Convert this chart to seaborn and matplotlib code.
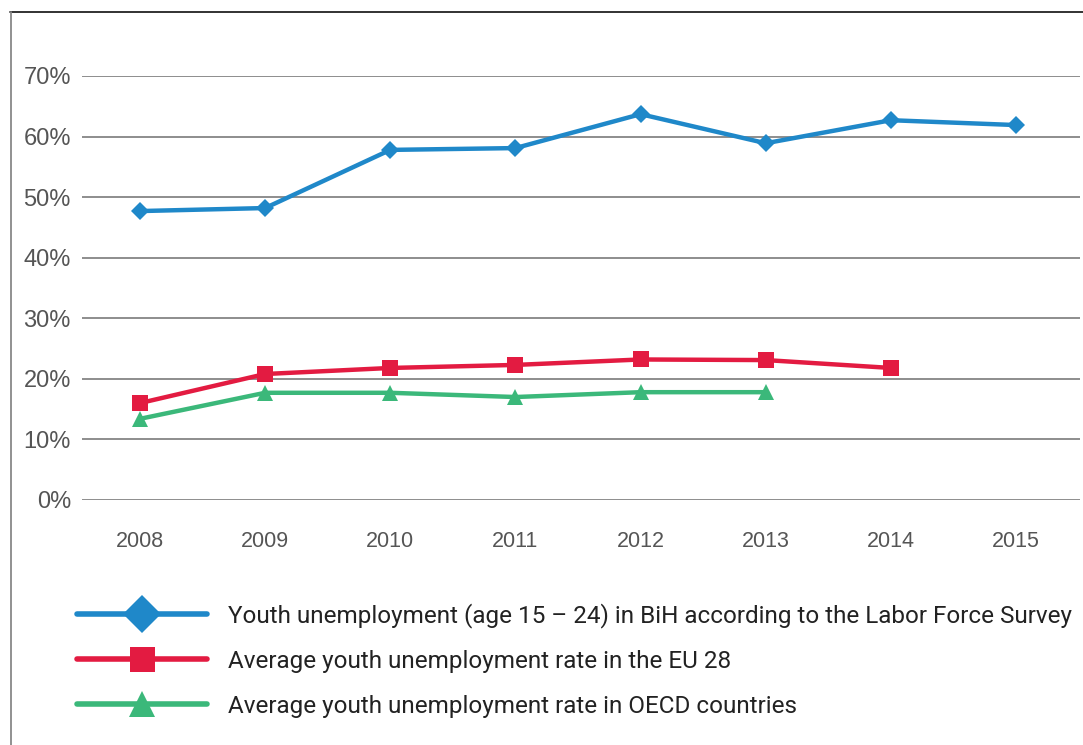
import matplotlib
matplotlib.use("Agg")
import matplotlib.pyplot as plt
from matplotlib.lines import Line2D
import seaborn as sns
import pandas as pd

# Youth unemployment rates (%)
years = [2008, 2009, 2010, 2011, 2012, 2013, 2014, 2015]
bih = [47.7, 48.2, 57.8, 58.1, 63.7, 58.9, 62.7, 61.9]
eu28 = [16.0, 20.8, 21.8, 22.3, 23.2, 23.1, 21.8]
oecd = [13.4, 17.7, 17.7, 17.0, 17.8, 17.8]

names = [
    "Youth unemployment (age 15 \u2013 24) in BiH according to the Labor Force Survey",
    "Average youth unemployment rate in the EU 28",
    "Average youth unemployment rate in OECD countries",
]
colors = ["#1f88c9", "#e31b41", "#3bb87a"]
markers = ["D", "s", "^"]
yticks = [0, 10, 20, 30, 40, 50, 60, 70]

frames = []
for name, vals in zip(names, [bih, eu28, oecd]):
    frames.append(pd.DataFrame({"year": years[:len(vals)], "rate": vals, "series": name}))
df = pd.concat(frames, ignore_index=True)

sns.set_theme(style="white")
plt.rcParams["font.family"] = ["Liberation Sans", "DejaVu Sans"]

W, H = 1083, 745
fig = plt.figure(figsize=(W / 100, H / 100), dpi=100)
ax = fig.add_axes([82 / W, 1 - 500 / H, (1080 - 82) / W, (500 - 76) / H])

sns.lineplot(
    data=df, x="year", y="rate", hue="series", style="series",
    palette=dict(zip(names, colors)), markers=dict(zip(names, markers)),
    dashes=False, linewidth=3.2, markersize=11, markeredgewidth=0,
    legend=False, ax=ax, clip_on=False,
)
for line in ax.lines:
    if line.get_marker() == "D":
        line.set_markersize(9.5)
    if line.get_marker() == "^":
        line.set_markersize(12)

ax.set_xlim(2007.537, 2015.511)
ax.set_ylim(0, 70)
ax.set_yticks(yticks)
ax.set_yticklabels([f"{v}%" for v in yticks])
ax.set_xticks(years)
ax.set_xticklabels([str(y) for y in years])
ax.set_xlabel("")
ax.set_ylabel("")
ax.grid(axis="y", color="#6f6f6f", linewidth=1.1)
ax.grid(axis="x", visible=False)
for s in ax.spines.values():
    s.set_visible(False)
ax.tick_params(axis="y", length=0, pad=8, labelsize=17, labelcolor="#555555")
ax.tick_params(axis="x", length=0, pad=22, labelsize=15.5, labelcolor="#555555")
ax.set_axisbelow(True)

# Legend
handles = [
    Line2D([], [], color=colors[0], lw=4, marker="D", markersize=19, markeredgewidth=0),
    Line2D([], [], color=colors[1], lw=4, marker="s", markersize=18, markeredgewidth=0),
    Line2D([], [], color=colors[2], lw=4, marker="^", markersize=19, markeredgewidth=0),
]
leg = fig.legend(
    handles, names, loc="upper left", bbox_to_anchor=(77 / W, 1 - 603 / H),
    frameon=False, numpoints=1, handlelength=5.35, handletextpad=0.86,
    labelspacing=0.9, prop={"family": ["Roboto", "DejaVu Sans"], "size": 17.5},
    borderaxespad=0, borderpad=0,
)
for t in leg.get_texts():
    t.set_color("#222222")

# Outer frame
fig.add_artist(Line2D([10 / W, 1.01], [1 - 12 / H, 1 - 12 / H], color="#222222",
                      lw=1.3, transform=fig.transFigure))
fig.add_artist(Line2D([10.5 / W, 10.5 / W], [1 - 12 / H, -0.01], color="#888888",
                      lw=1.3, transform=fig.transFigure))

fig.savefig("out.png", dpi=100)
